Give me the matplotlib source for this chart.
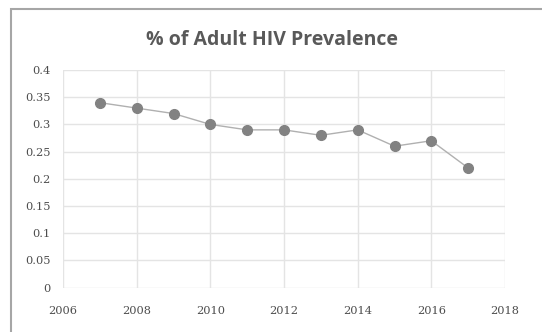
import matplotlib.pyplot as plt
from matplotlib.patches import Rectangle

years = [2007, 2008, 2009, 2010, 2011, 2012, 2013, 2014, 2015, 2016, 2017]
prevalence = [0.34, 0.33, 0.32, 0.30, 0.29, 0.29, 0.28, 0.29, 0.26, 0.27, 0.22]
x_ticks = [2006, 2008, 2010, 2012, 2014, 2016, 2018]
y_ticks = [0, 0.05, 0.1, 0.15, 0.2, 0.25, 0.3, 0.35, 0.4]
y_labels = ['0', '0.05', '0.1', '0.15', '0.2', '0.25', '0.3', '0.35', '0.4']

fig = plt.figure(figsize=(5.42, 3.32), dpi=100)
ax = fig.add_axes([63/542, 1-287.7/332, (505-63)/542, (287.7-70)/332])

# chart border (only left and top show in the picture)
fig.patches.append(Rectangle((11/542, -0.5), 2, 1.5-9/332, transform=fig.transFigure,
                             fill=False, edgecolor='#a6a6a6', linewidth=1.5))

ax.plot(years, prevalence, color='#b0b0b0', linewidth=1.0, zorder=3)
ax.plot(years, prevalence, 'o', color='#828282', markersize=7, zorder=4)

ax.set_xlim(2006, 2018)
ax.set_ylim(0, 0.4)
ax.set_xticks(x_ticks)
ax.set_yticks(y_ticks)
ax.set_yticklabels(y_labels)
ax.grid(True, color='#e4e4e4', linewidth=1.0)
ax.set_axisbelow(True)
for s in ax.spines.values():
    s.set_visible(False)
ax.tick_params(length=0, labelsize=8.2, labelcolor='#4d4d4d')
ax.tick_params(axis='y', pad=9)
ax.tick_params(axis='x', pad=13)
for lab in ax.get_xticklabels() + ax.get_yticklabels():
    lab.set_family('DejaVu Serif')

fig.text(272/542, 1-40/332, '% of Adult HIV Prevalence', ha='center', va='center',
         fontsize=14, fontweight='bold', color='#595959', family='Open Sans')

fig.savefig('out.png', dpi=100)
